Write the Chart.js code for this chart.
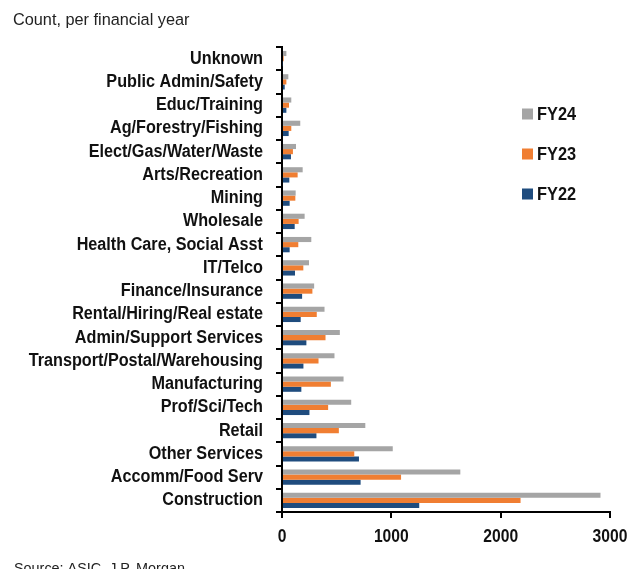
<!DOCTYPE html>
<html>
<head>
<meta charset="utf-8">
<script src="https://cdn.jsdelivr.net/npm/chart.js@4"></script>
<style>
  body { margin: 0; background: #fff; }
  #wrap { position: relative; width: 644px; height: 569px; }
</style>
</head>
<body>
<div id="wrap"><canvas id="chart" width="644" height="569"></canvas></div>
<script>
var categories = ['Unknown', 'Public Admin/Safety', 'Educ/Training', 'Ag/Forestry/Fishing', 'Elect/Gas/Water/Waste',
    'Arts/Recreation', 'Mining', 'Wholesale', 'Health Care, Social Asst', 'IT/Telco', 'Finance/Insurance',
    'Rental/Hiring/Real estate', 'Admin/Support Services', 'Transport/Postal/Warehousing', 'Manufacturing',
    'Prof/Sci/Tech', 'Retail', 'Other Services', 'Accomm/Food Serv', 'Construction']
var fy24 = [40, 58, 85, 167, 128, 189, 125, 207, 268, 247, 294, 389, 529, 480, 563, 633, 762, 1013, 1631, 2913]
var fy23 = [15, 40, 64, 85, 100, 143, 122, 152, 149, 195, 278, 318, 398, 334, 447, 422, 520, 661, 1089, 2182]
var fy22 = [6, 25, 40, 61, 82, 67, 70, 116, 70, 119, 184, 171, 223, 196, 177, 251, 315, 704, 719, 1255]
var xTicks = [0, 1000, 2000, 3000]

var font = 'Arial, "Liberation Sans", sans-serif'

//Bold labels in the reference are tall and narrow, so draw them squeezed sideways
function narrowText(ctx, text, x, y, align, squeeze) {
    ctx.save()
    ctx.translate(x, y)
    ctx.scale(squeeze, 1)
    ctx.textAlign = align
    ctx.fillText(text, 0, 0)
    ctx.restore()
}

//Draws the header, source line, tick labels and the legend on the right
var extras = {
    id: 'extras',
    afterDraw: (chart) => {
        let ctx = chart.ctx
        let xs = chart.scales.x
        let ys = chart.scales.y
        ctx.save()
        ctx.fillStyle = '#222'
        ctx.textBaseline = 'middle'
        ctx.textAlign = 'left'
        ctx.font = '16.3px ' + font
        ctx.fillText('Count, per financial year', 13, 21)
        ctx.font = '14.4px ' + font
        ctx.textBaseline = 'alphabetic'
        ctx.fillText('Source: ASIC, J.P. Morgan', 14, 573)

        ctx.fillStyle = '#111'
        ctx.textBaseline = 'middle'
        ctx.font = 'bold 18px ' + font
        categories.forEach((c, i) => {
            narrowText(ctx, c, 263, ys.getPixelForValue(i), 'right', 0.9)
        })
        xTicks.forEach((v) => {
            narrowText(ctx, String(v), xs.getPixelForValue(v), 537, 'center', 0.87)
        })

        let rows = [114, 154, 194]
        ctx.font = 'bold 19px ' + font
        chart.data.datasets.forEach((ds, i) => {
            ctx.fillStyle = ds.backgroundColor
            ctx.fillRect(522, rows[i] - 5.5, 11, 11)
            ctx.fillStyle = '#111'
            narrowText(ctx, ds.label, 537, rows[i] + 1, 'left', 0.86)
        })
        ctx.restore()
    }
}

new Chart(document.getElementById('chart'), {
    type: 'bar',
    data: {
        labels: categories,
        datasets: [
            { label: 'FY24', data: fy24, backgroundColor: '#A5A5A5' },
            { label: 'FY23', data: fy23, backgroundColor: '#F07E32' },
            { label: 'FY22', data: fy22, backgroundColor: '#1F4C7E' }
        ]
    },
    options: {
        indexAxis: 'y',
        responsive: false,
        animation: false,
        categoryPercentage: 0.66,
        barPercentage: 1.0,
        layout: { padding: { top: 47, right: 34, left: 0, bottom: 0 } },
        plugins: { legend: { display: false }, tooltip: { enabled: false } },
        scales: {
            x: {
                min: 0,
                max: 3000,
                afterBuildTicks: (scale) => { scale.ticks = xTicks.map(v => ({ value: v })) },
                afterFit: (scale) => { scale.height = 57 },
                border: { color: '#000', width: 2 },
                grid: { drawOnChartArea: false, color: '#000', lineWidth: 2, tickLength: 6 },
                ticks: { display: false }
            },
            y: {
                afterFit: (scale) => { scale.width = 282 },
                border: { color: '#000', width: 2 },
                grid: { drawOnChartArea: false, color: '#000', lineWidth: 2, tickLength: 6 },
                ticks: { display: false, autoSkip: false }
            }
        }
    },
    plugins: [extras]
})
</script>
</body>
</html>
